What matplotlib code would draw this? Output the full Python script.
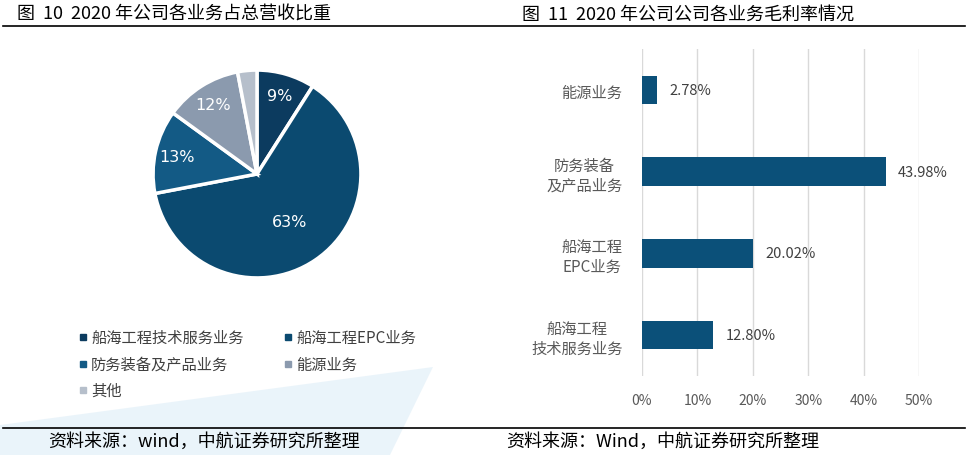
import matplotlib
matplotlib.use("Agg")
import matplotlib.pyplot as plt
from matplotlib.patches import Polygon
from matplotlib.lines import Line2D

plt.rcParams['font.family'] = ['Noto Sans CJK SC', 'DejaVu Sans']

# 图10 数据
pie_labels = ['船海工程技术服务业务', '船海工程EPC业务', '防务装备及产品业务', '能源业务', '其他']
pie_values = [9, 63, 13, 12, 3]
pie_colors = ['#0c3b5f', '#0b4a70', '#135a85', '#8b9aae', '#b6bfcb']

# 图11 数据
bar_labels = ['船海工程\n技术服务业务', '船海工程\nEPC业务', '防务装备\n及产品业务', '能源业务']
bar_values = [12.80, 20.02, 43.98, 2.78]
x_ticks = [0, 10, 20, 30, 40, 50]

W, H = 967, 456
fig = plt.figure(figsize=(W / 100, H / 100), dpi=100)


def box(x0, y0, x1, y1):
    # 像素坐标 -> figure 坐标
    return [x0 / W, 1 - y1 / H, (x1 - x0) / W, (y1 - y0) / H]


# 背景水印
bg = fig.add_axes([0, 0, 1, 1])
bg.set_xlim(0, W)
bg.set_ylim(H, 0)
bg.axis('off')
bg.add_patch(Polygon([(0, 426), (433, 368), (390, 456), (0, 456)],
                     closed=True, color='#d7eaf6', alpha=0.5, lw=0))
# 标题与分隔线
bg.add_line(Line2D([3, 965], [27, 27], color='black', lw=1.2))
bg.add_line(Line2D([3, 965], [429, 429], color='black', lw=1.2))
bg.text(17, 15, '图  10  2020 年公司各业务占总营收比重', fontsize=13,
        va='center', ha='left')
bg.text(522, 15, '图  11  2020 年公司公司各业务毛利率情况', fontsize=13,
        va='center', ha='left')
bg.text(48, 442, '资料来源：wind，中航证券研究所整理', fontsize=13,
        va='center', ha='left')
bg.text(506, 442, '资料来源：Wind，中航证券研究所整理', fontsize=13,
        va='center', ha='left')

# 饼图
ax1 = fig.add_axes(box(151, 69, 363, 281))
wedges, texts, autotexts = ax1.pie(
    pie_values, colors=pie_colors, startangle=90, counterclock=False,
    autopct=lambda p: '' if p < 5 else '%d%%' % round(p),
    pctdistance=0.79,
    wedgeprops=dict(edgecolor='white', linewidth=2.5),
    textprops=dict(color='white', fontsize=11.5, family=['DejaVu Sans']))
big = pie_values.index(max(pie_values))
px, py = autotexts[big].get_position()
autotexts[big].set_position((px * 0.7, py * 0.7))
ax1.set_xlim(-1.02, 1.02)
ax1.set_ylim(-1.02, 1.02)
ax1.set_aspect('equal')

# 图例
leg_pos = [(83, 338), (288, 338), (83, 365), (288, 365), (83, 391)]
for (lx, ly), lab, col in zip(leg_pos, pie_labels, pie_colors):
    bg.plot(lx, ly, marker='s', ms=4, color=col, ls='none')
    bg.text(lx + 8, ly, lab, fontsize=11, color='#404040', va='center', ha='left')

# 条形图
ax2 = fig.add_axes(box(642, 50, 919, 377))
ypos = list(range(len(bar_values)))
bars = ax2.barh(ypos, bar_values, height=0.35, color='#0b5079')
ax2.bar_label(bars, labels=['%.2f%%' % v for v in bar_values], padding=9,
              fontsize=10.5, color='#404040')
ax2.set_xlim(0, 50)
ax2.set_ylim(-0.5, 3.5)
ax2.set_xticks(x_ticks)
ax2.set_xticklabels(['%d%%' % t for t in x_ticks], fontsize=10, color='#595959')
ax2.set_yticks(ypos)
ax2.set_yticklabels(bar_labels, fontsize=11, color='#595959')
for t in ax2.get_yticklabels():
    t.set_multialignment('center')
ax2.tick_params(axis='both', length=0)
ax2.tick_params(axis='x', pad=12)
ax2.tick_params(axis='y', pad=14)
ax2.grid(axis='x', color='#d9d9d9', lw=1)
ax2.set_axisbelow(True)
for s in ax2.spines.values():
    s.set_visible(False)
ax2.patch.set_alpha(0)

fig.savefig('out.png', dpi=100)
